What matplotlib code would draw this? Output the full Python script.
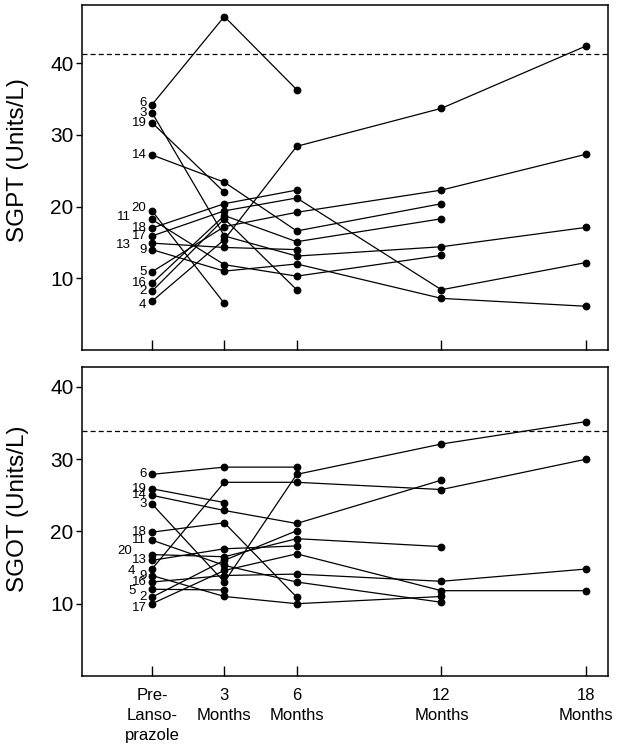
import numpy as np
import matplotlib
matplotlib.use("Agg")
import matplotlib.pyplot as plt

nan = np.nan
months = [0, 3, 6, 12, 18]
tick_labels = ["Pre-\nLanso-\nprazole", "3\nMonths", "6\nMonths", "12\nMonths", "18\nMonths"]

# SGPT panel (top)
sgpt_patients = ["6", "3", "19", "14", "20", "11", "18", "17", "13", "9", "5", "16", "2", "4"]
sgpt_pre = [34.2, 33.1, 31.7, 27.2, 19.4, 18.2, 17.0, 15.9, 14.9, 14.0, 10.9, 9.3, 8.2, 6.8]
sgpt_3mo = [46.5, 15.9, 22.0, 23.4, 6.5, 11.9, 20.4, 19.4, 14.3, 11.0, 17.2, 18.75, 18.3, 15.4]
sgpt_6mo = [36.3, 13.1, nan, 16.6, nan, 10.3, 22.3, 21.2, 14.0, 12.0, 19.2, 15.1, 8.4, 28.4]
sgpt_12mo = [nan, 14.4, nan, 20.4, nan, 13.2, nan, 8.4, nan, 7.2, 22.3, 18.3, nan, 33.7]
sgpt_18mo = [nan, 17.1, nan, nan, nan, nan, nan, 12.2, nan, 6.1, 27.3, nan, nan, 42.4]
sgpt_limit = 41.3

# SGOT panel (bottom)
sgot_patients = ["6", "19", "14", "3", "18", "11", "20", "13", "4", "9", "16", "5", "2", "17"]
sgot_pre = [27.9, 25.9, 25.0, 23.8, 19.9, 18.8, 16.8, 16.0, 14.8, 13.9, 13.0, 12.0, 10.9, 10.0]
sgot_3mo = [28.9, 24.0, 22.9, 13.0, 21.2, 15.3, 16.5, 17.6, 26.8, 11.0, 13.9, 11.9, 16.0, 14.6]
sgot_6mo = [28.9, nan, 21.1, 27.9, 10.9, 13.0, 19.0, 18.0, 26.8, 10.0, 14.1, nan, 20.1, 16.9]
sgot_12mo = [nan, nan, 27.1, 32.1, nan, 10.2, 17.9, nan, 25.8, 11.0, 13.1, nan, nan, 11.8]
sgot_18mo = [nan, nan, nan, 35.2, nan, nan, nan, nan, 30.0, nan, 14.8, nan, nan, 11.8]
sgot_limit = 33.9

plt.rcParams['font.family'] = ['Liberation Sans', 'DejaVu Sans']

fig = plt.figure(figsize=(6.18, 7.5), dpi=100)
ax1 = fig.add_axes([0.1327, 0.5333, 0.851, 0.46])
ax2 = fig.add_axes([0.1327, 0.0987, 0.851, 0.4124])

# label style offsets (points): (dx, dy)
top_shift = {"11": (-15, 1.5), "13": (-15, -1.0), "4": (-4, -2.5), "20": (-4, 2), "6": (-4, 1.5)}
bot_shift = {"20": (-14, 2.5), "4": (-12, -1.5), "5": (-12, -1.5), "17": (-4, -3), "9": (-4, 0)}


def draw(ax, patients, cols, limit, ylim, ylabel, shifts, label_y):
    data = np.array(cols, dtype=float).T
    for pid, row in zip(patients, data):
        ax.plot(months, row, color='black', lw=0.9, marker='o', ms=4.6,
                mfc='black', mec='black', zorder=3)
        dx, dy = shifts.get(pid, (-4, 0))
        ax.annotate(pid, xy=(0, row[0]), xytext=(dx, dy), textcoords='offset points',
                    ha='right', va='center', fontsize=9.5)
    ax.axhline(limit, color='black', lw=0.9, ls=(0, (4, 2.5)), zorder=2)
    ax.set_xlim(-2.9, 18.9)
    ax.set_ylim(*ylim)
    ax.set_yticks([10, 20, 30, 40])
    ax.tick_params(axis='y', direction='out', length=4, width=1, labelsize=15, pad=2)
    ax.tick_params(axis='x', direction='in', length=7, width=1, labelsize=12, pad=9)
    ax.set_xticks(months)
    ax.set_ylabel(ylabel, fontsize=17.5)
    ax.yaxis.set_label_coords(-0.1, label_y)
    for s in ax.spines.values():
        s.set_linewidth(1.1)


draw(ax1, sgpt_patients, [sgpt_pre, sgpt_3mo, sgpt_6mo, sgpt_12mo, sgpt_18mo],
     sgpt_limit, (0, 48.1), "SGPT (Units/L)", top_shift, 0.55)
ax1.set_xticklabels([])
draw(ax2, sgot_patients, [sgot_pre, sgot_3mo, sgot_6mo, sgot_12mo, sgot_18mo],
     sgot_limit, (0, 42.8), "SGOT (Units/L)", bot_shift, 0.54)
ax2.set_xticklabels(tick_labels, linespacing=1.4, va='top')

fig.savefig("out.png", dpi=100)
